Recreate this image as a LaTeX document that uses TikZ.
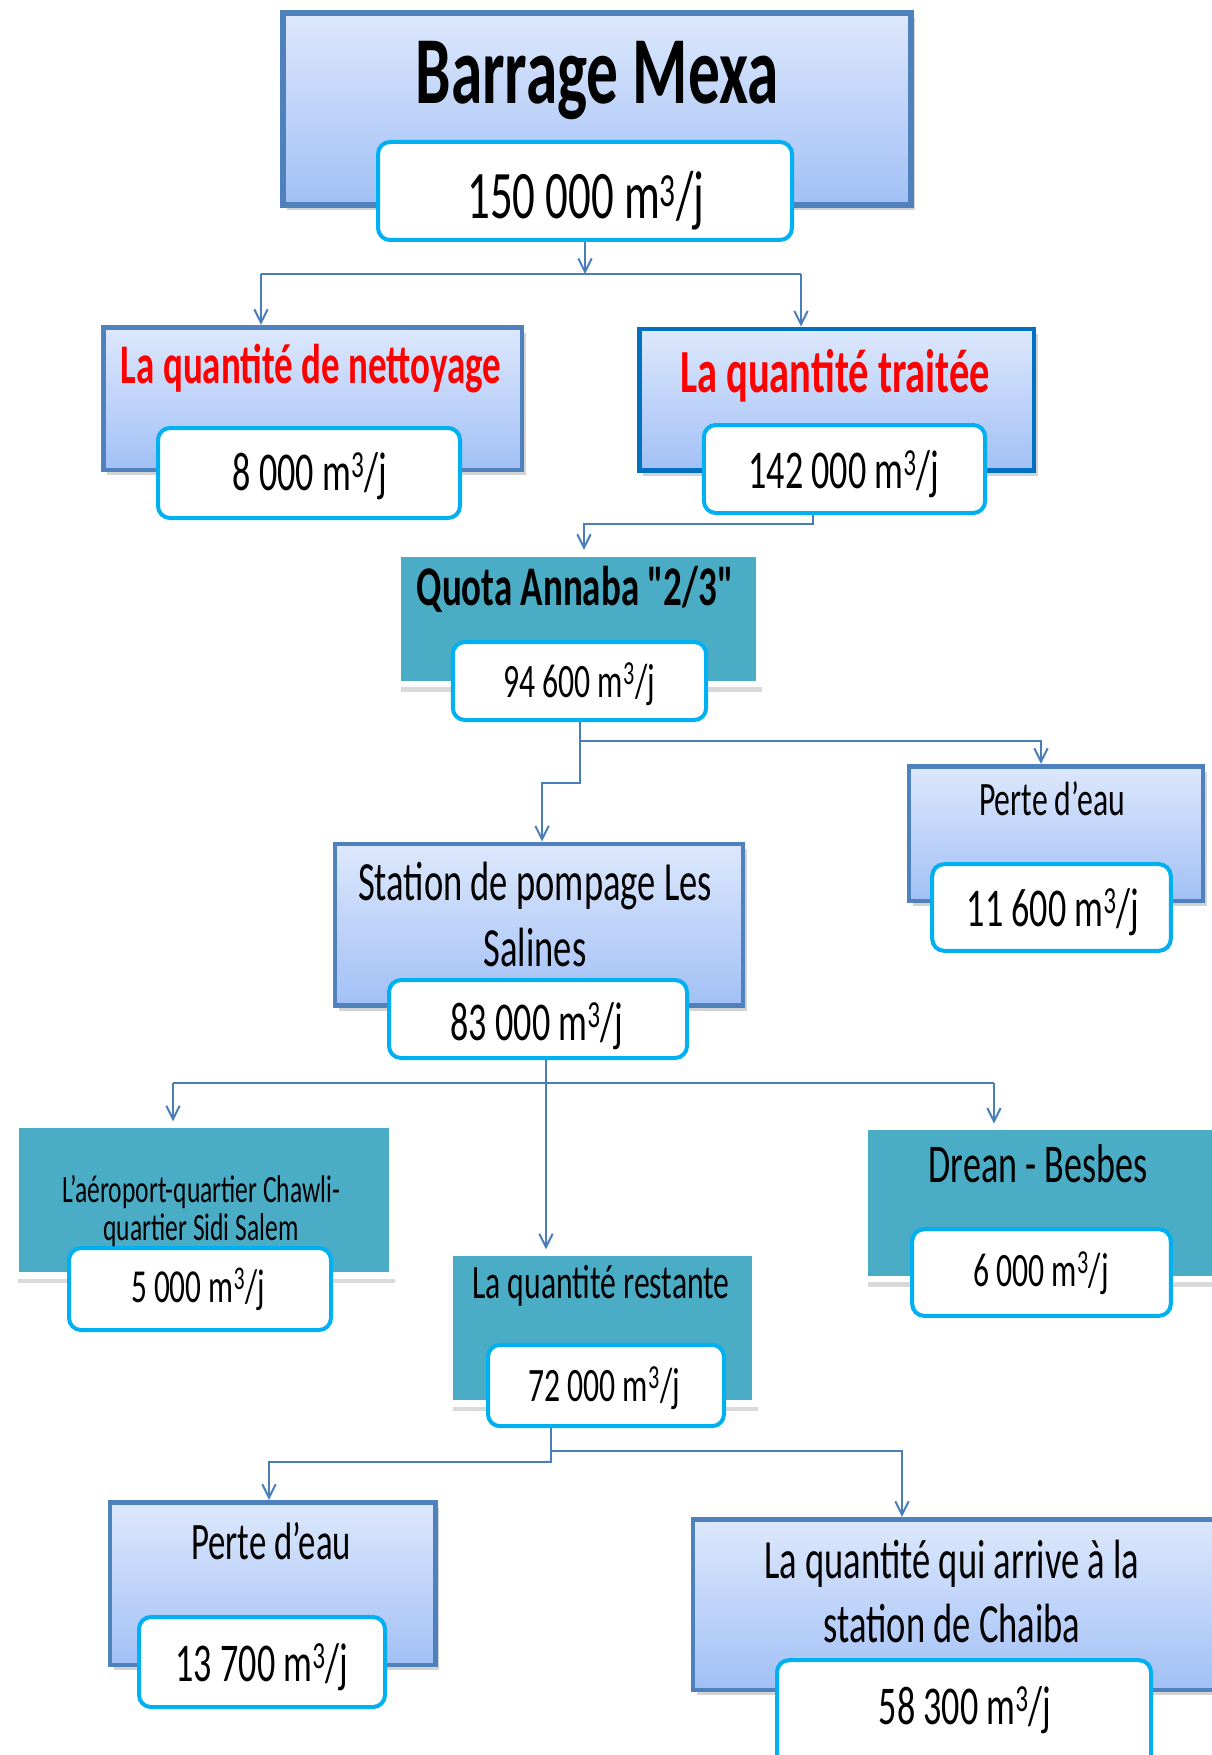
\documentclass[tikz,border=0pt]{standalone}
\usepackage{fontspec}
\setmainfont{Carlito}[FakeStretch=0.66]
\newfontfamily\quotafont{Carlito}[FakeStretch=0.66, Ligatures=TeXOff]
\usetikzlibrary{arrows.meta,shadows}

\definecolor{boxblue}{RGB}{79,129,189}
\definecolor{boxdark}{RGB}{0,112,192}
\definecolor{topblue}{RGB}{221,232,252}
\definecolor{botblue}{RGB}{162,192,246}
\definecolor{valcyan}{RGB}{0,176,240}
\definecolor{tealfill}{RGB}{75,172,198}
\definecolor{linkblue}{RGB}{74,126,187}

\newcommand{\debit}[1]{#1 m\textsuperscript{3}/j}

\tikzset{
	bluebox/.style={draw=boxblue, line width=3.5pt, top color=topblue, bottom color=botblue, inner sep=0pt,
		drop shadow={shadow xshift=3pt, shadow yshift=-4pt, opacity=.35}},
	tealbox/.style={draw=white, fill=tealfill, line width=5pt, inner sep=0pt,
		drop shadow={shadow xshift=2pt, shadow yshift=-6pt, opacity=.3}},
	valbox/.style={draw=valcyan, fill=white, line width=3pt, rounded corners=9pt, inner sep=0pt},
	link/.style={draw=linkblue, line width=1.5pt},
	flow/.style={link, -{Straight Barb[length=10pt,width=10pt]}},
	txt/.style={anchor=base, inner sep=0pt, align=center}}
\tikzset{every picture/.style={line width=0.75pt}}

\begin{document}
\begin{tikzpicture}[x=0.75pt,y=0.75pt,yscale=-1,xscale=1]
	\useasboundingbox (0,0) rectangle (1211,1755);

	%Boxes, top
	\node[bluebox, line width=4pt, minimum width=471pt, minimum height=144pt] (mexa) at (597,109) {};
	\node[valbox, minimum width=310.5pt, minimum height=73.5pt] (v150) at (585,191) {};
	\node[bluebox, minimum width=314pt, minimum height=107pt] (nett) at (312.5,398.5) {};
	\node[valbox, minimum width=226.5pt, minimum height=67.5pt] (v8) at (309,473) {};
	\node[bluebox, draw=boxdark, minimum width=296pt, minimum height=106pt] (trait) at (836.5,399.5) {};
	\node[valbox, minimum width=211pt, minimum height=66pt] (v142) at (844.5,469) {};
	\node[tealbox, minimum width=271pt, minimum height=98pt] (quota) at (578.5,618.5) {};
	\node[valbox, minimum width=190pt, minimum height=58.5pt] (v946) at (579.5,681) {};

	%Boxes, middle
	\node[bluebox, minimum width=220.5pt, minimum height=101pt] (perte1) at (1056,833.5) {};
	\node[valbox, minimum width=179pt, minimum height=65pt] (v116) at (1051.5,907.5) {};
	\node[bluebox, minimum width=306pt, minimum height=121pt] (station) at (539,924.5) {};
	\node[valbox, minimum width=223.5pt, minimum height=58.5pt] (v83) at (538,1019) {};
	\node[tealbox, minimum width=283pt, minimum height=113pt] (aero) at (204,1200) {};
	\node[valbox, minimum width=196.5pt, minimum height=61.5pt] (v5) at (200,1289) {};
	\node[tealbox, minimum width=229pt, minimum height=113pt] (rest) at (602.75,1328) {};
	\node[valbox, minimum width=177pt, minimum height=61pt] (v72) at (606,1385.5) {};
	\node[tealbox, minimum width=274pt, minimum height=114pt] (drean) at (1047.5,1203) {};
	\node[valbox, minimum width=194pt, minimum height=65pt] (v6) at (1041.5,1272.5) {};

	%Boxes, bottom
	\node[bluebox, minimum width=244pt, minimum height=122pt] (perte2) at (272.5,1583.5) {};
	\node[valbox, minimum width=184.5pt, minimum height=67.5pt] (v137) at (262,1662) {};
	\node[bluebox, minimum width=403pt, minimum height=128pt] (chaiba) at (961.5,1604.5) {};
	\node[valbox, minimum width=280.5pt, minimum height=86pt] (v583) at (964,1717.5) {};

	%Connectors
	\coordinate (j1l) at (261,274);
	\coordinate (j1r) at (801,274);
	\draw[flow] (v150.south) -- (v150.south |- j1l);
	\draw[link] (j1l) -- (j1r);
	\draw[flow] (j1l) -- (j1l |- nett.north);
	\draw[flow] (j1r) -- (j1r |- trait.north);

	\coordinate (k1) at (813,524);
	\coordinate (k2) at (584,524);
	\draw[flow] (k1 |- v142.south) -- (k1) -- (k2) -- (k2 |- quota.north);

	\coordinate (m1) at (580,741);
	\coordinate (m2) at (1041,741);
	\coordinate (m3) at (580,783);
	\coordinate (m4) at (542,783);
	\draw[flow] (m1 |- v946.south) -- (m1) -- (m2) -- (m2 |- perte1.north);
	\draw[flow] (m1) -- (m3) -- (m4) -- (m4 |- station.north);

	\coordinate (n1) at (546,1083);
	\coordinate (n2) at (173,1083);
	\coordinate (n3) at (994,1083);
	\draw[flow] (n1 |- v83.south) -- (n1 |- rest.north);
	\draw[link] (n2) -- (n3);
	\draw[flow] (n2) -- (n2 |- aero.north);
	\draw[flow] (n3) -- (n3 |- drean.north);

	\coordinate (p1) at (551,1451);
	\coordinate (p2) at (902,1451);
	\coordinate (p3) at (551,1462);
	\coordinate (p4) at (269,1462);
	\draw[flow] (p1 |- v72.south) -- (p3) -- (p4) -- (p4 |- perte2.north);
	\draw[flow] (p1) -- (p2) -- (p2 |- chaiba.north);

	% Text Node
	\node[txt, font=\fontsize{72}{86}\selectfont\bfseries] (mexa-t) at (597,104) {Barrage Mexa};
	% Text Node
	\node[txt, font=\fontsize{51}{60}\selectfont] (v150-t) at (586,219) {\debit{150 000}};
	% Text Node
	\node[txt, text=red, font=\fontsize{42}{50}\selectfont\bfseries] (nett-t) at (311,383) {La quantité de nettoyage};
	% Text Node
	\node[txt, font=\fontsize{41}{48}\selectfont] (v8-t) at (310,490) {\debit{8 000}};
	% Text Node
	\node[txt, text=red, font=\fontsize{46}{54}\selectfont\bfseries] (trait-t) at (835,392) {La quantité traitée};
	% Text Node
	\node[txt, font=\fontsize{41}{48}\selectfont] (v142-t) at (844,488) {\debit{142 000}};
	% Text Node
	\node[txt, font=\quotafont\fontsize{42}{50}\selectfont\bfseries] (quota-t) at (575,605) {Quota Annaba "2/3"};
	% Text Node
	\node[txt, font=\fontsize{36}{43}\selectfont] (v946-t) at (579,697) {\debit{94 600}};
	% Text Node
	\node[txt, font=\fontsize{36}{42}\selectfont] (perte1-t) at (1052,815) {Perte d’eau};
	% Text Node
	\node[txt, font=\fontsize{41}{48}\selectfont] (v116-t) at (1053,926) {\debit{11 600}};
	% Text Node
	\node[txt, font=\fontsize{41.5}{49}\selectfont] (station-t) at (535,966) {Station de pompage Les\\Salines};
	% Text Node
	\node[txt, font=\fontsize{41}{48}\selectfont] (v83-t) at (537,1040) {\debit{83 000}};
	% Text Node
	\node[txt, font=\fontsize{29}{28}\selectfont] (aero-t) at (201,1240) {L’aéroport-quartier Chawli-\\quartier Sidi Salem};
	% Text Node
	\node[txt, font=\fontsize{35.5}{42}\selectfont] (v5-t) at (198,1302) {\debit{5 000}};
	% Text Node
	\node[txt, font=\fontsize{36}{43}\selectfont] (rest-t) at (601,1298) {La quantité restante};
	% Text Node
	\node[txt, font=\fontsize{36}{43}\selectfont] (v72-t) at (604,1401) {\debit{72 000}};
	% Text Node
	\node[txt, font=\fontsize{41}{48}\selectfont] (drean-t) at (1038,1182) {Drean - Besbes};
	% Text Node
	\node[txt, font=\fontsize{36}{43}\selectfont] (v6-t) at (1041,1286) {\debit{6 000}};
	% Text Node
	\node[txt, font=\fontsize{39.5}{47}\selectfont] (perte2-t) at (271,1559) {Perte d’eau};
	% Text Node
	\node[txt, font=\fontsize{41}{48}\selectfont] (v137-t) at (262,1681) {\debit{13 700}};
	% Text Node
	\node[txt, font=\fontsize{41.5}{48}\selectfont] (chaiba-t) at (952,1642) {La quantité qui arrive à la\\station de Chaiba};
	% Text Node
	\node[txt, font=\fontsize{41}{48}\selectfont] (v583-t) at (965,1724) {\debit{58 300}};

\end{tikzpicture}
\end{document}
